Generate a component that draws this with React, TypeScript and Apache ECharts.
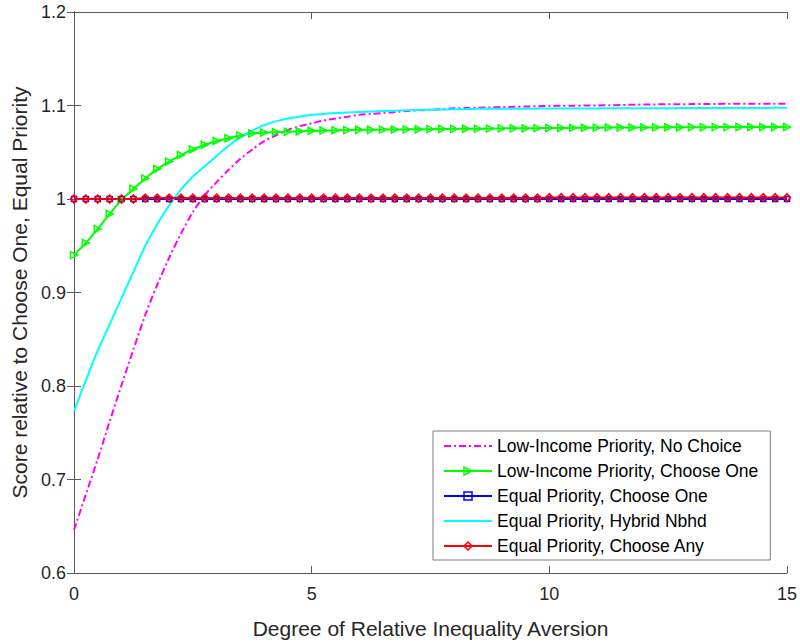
import React, { useEffect, useRef } from 'react';
import * as echarts from 'echarts';

// Degree of relative inequality aversion (x values)
const AVERSION = [
  0, 0.25, 0.5, 0.75, 1, 1.25, 1.5, 1.75, 2, 2.25,
  2.5, 2.75, 3, 3.25, 3.5, 3.75, 4, 4.25, 4.5, 4.75,
  5, 5.25, 5.5, 5.75, 6, 6.25, 6.5, 6.75, 7, 7.25,
  7.5, 7.75, 8, 8.25, 8.5, 8.75, 9, 9.25, 9.5, 9.75,
  10, 10.25, 10.5, 10.75, 11, 11.25, 11.5, 11.75, 12, 12.25,
  12.5, 12.75, 13, 13.25, 13.5, 13.75, 14, 14.25, 14.5, 14.75,
  15,
];

const LOW_INCOME_NO_CHOICE = [
  0.646, 0.684, 0.722, 0.762, 0.801, 0.839, 0.876, 0.908, 0.937, 0.963,
  0.986, 1.004, 1.018, 1.031, 1.043, 1.053, 1.062, 1.068, 1.074, 1.078,
  1.081, 1.084, 1.086, 1.088, 1.090, 1.091, 1.092, 1.093, 1.094, 1.095,
  1.0955, 1.096, 1.097, 1.0973, 1.0976, 1.098, 1.0983, 1.0986, 1.0989, 1.0992,
  1.0995, 1.0997, 1.0998, 1.0999, 1.1, 1.1003, 1.1005, 1.1008, 1.101, 1.1012,
  1.1013, 1.1014, 1.1015, 1.1016, 1.1017, 1.1018, 1.102, 1.102, 1.102, 1.102,
  1.102,
];

const LOW_INCOME_CHOOSE_ONE = [
  0.940, 0.953, 0.968, 0.984, 0.999, 1.011, 1.022, 1.032, 1.040, 1.047,
  1.053, 1.058, 1.062, 1.065, 1.068, 1.070, 1.071, 1.0715, 1.072, 1.0725,
  1.073, 1.0732, 1.0735, 1.0737, 1.074, 1.0741, 1.0742, 1.0743, 1.0745, 1.0746,
  1.0747, 1.0748, 1.075, 1.0751, 1.0752, 1.0753, 1.0755, 1.0756, 1.0757, 1.0758,
  1.076, 1.076, 1.0761, 1.0762, 1.0763, 1.0764, 1.0764, 1.0765, 1.0766, 1.0766,
  1.0767, 1.0767, 1.0768, 1.0768, 1.0769, 1.0769, 1.077, 1.077, 1.077, 1.077,
  1.077,
];

const EQUAL_CHOOSE_ONE = [
  1, 1, 1, 1, 1, 1, 1, 1, 1, 1,
  1, 1, 1, 1, 1, 1, 1, 1, 1, 1,
  1, 1, 1, 1, 1, 1, 1, 1, 1, 1,
  1, 1, 1, 1, 1, 1, 1, 1, 1, 1,
  1, 1, 1, 1, 1, 1, 1, 1, 1, 1,
  1, 1, 1, 1, 1, 1, 1, 1, 1, 1,
  1,
];

const EQUAL_HYBRID = [
  0.773, 0.806, 0.838, 0.866, 0.894, 0.922, 0.950, 0.973, 0.993, 1.010,
  1.024, 1.035, 1.046, 1.057, 1.066, 1.073, 1.079, 1.083, 1.086, 1.088,
  1.090, 1.091, 1.092, 1.0925, 1.093, 1.0935, 1.094, 1.0945, 1.095, 1.0952,
  1.0955, 1.0957, 1.096, 1.0962, 1.0964, 1.0965, 1.0965, 1.0966, 1.0966, 1.0967,
  1.0967, 1.0968, 1.0968, 1.0969, 1.0969, 1.097, 1.097, 1.097, 1.097, 1.0971,
  1.0971, 1.0972, 1.0972, 1.0972, 1.0973, 1.0973, 1.0973, 1.0974, 1.0974, 1.0975,
  1.0975,
];

const EQUAL_CHOOSE_ANY = [
  1, 1, 1, 1, 1, 1, 1.001, 1.001, 1.001, 1.001,
  1.001, 1.001, 1.001, 1.001, 1.001, 1.001, 1.001, 1.001, 1.001, 1.001,
  1.001, 1.001, 1.001, 1.001, 1.001, 1.001, 1.001, 1.001, 1.001, 1.001,
  1.001, 1.001, 1.001, 1.001, 1.001, 1.001, 1.001, 1.001, 1.001, 1.001,
  1.0015, 1.0015, 1.0015, 1.0015, 1.0015, 1.0015, 1.0015, 1.0015, 1.0015, 1.0015,
  1.0015, 1.0015, 1.0015, 1.0015, 1.0015, 1.0015, 1.0015, 1.0015, 1.0015, 1.0015,
  1.0015,
];

const SERIES_NAMES = [
  'Low-Income Priority, No Choice',
  'Low-Income Priority, Choose One',
  'Equal Priority, Choose One',
  'Equal Priority, Hybrid Nbhd',
  'Equal Priority, Choose Any',
];

const X_TITLE = 'Degree of Relative Inequality Aversion';
const Y_TITLE = 'Score relative to Choose One, Equal Priority';

const FONT = '"Liberation Sans", Arial, Helvetica, sans-serif';
const TEXT = '#262626';
const AXIS = '#5a5a5a';
const HOLLOW = 'rgba(255,255,255,0)';

const MAGENTA = '#ff00ff';
const GREEN = '#00ff00';
const BLUE = '#0000ff';
const CYAN = '#00ffff';
const RED = '#ff0000';

function pairs(ys: number[]) {
  return AVERSION.map((x, i) => [x, ys[i]]);
}

export default function App() {
  const ref = useRef<HTMLDivElement>(null);
  useEffect(() => {
    const chart = echarts.init(ref.current!, null, { renderer: 'svg' });
    const axisLine = { show: true, lineStyle: { color: AXIS, width: 1 } };
    const tick = (show: boolean) => ({
      show,
      inside: true,
      length: 7,
      lineStyle: { color: AXIS, width: 1 },
    });
    const hollowLegend = (name: string, color: string) => ({
      name,
      itemStyle: { color: HOLLOW, borderColor: color, borderWidth: 1.5 },
    });
    const noMarkerLegend = (name: string) => ({
      name,
      itemStyle: { color: HOLLOW, borderColor: HOLLOW, borderWidth: 0, opacity: 0 },
    });
    chart.setOption({
      animation: false,
      backgroundColor: '#ffffff',
      textStyle: { fontFamily: FONT },
      grid: { left: 74, right: 12, top: 12, bottom: 68, containLabel: false },
      xAxis: [
        {
          type: 'value',
          min: 0,
          max: 15,
          interval: 5,
          position: 'bottom',
          name: X_TITLE,
          nameLocation: 'middle',
          nameGap: 45,
          nameTextStyle: { fontSize: 21, color: TEXT, fontFamily: FONT },
          axisLine,
          axisTick: tick(true),
          axisLabel: { fontSize: 18, color: TEXT, margin: 12, fontFamily: FONT },
          splitLine: { show: false },
        },
        {
          type: 'value',
          min: 0,
          max: 15,
          interval: 5,
          position: 'top',
          axisLine,
          axisTick: tick(true),
          axisLabel: { show: false },
          splitLine: { show: false },
        },
      ],
      yAxis: [
        {
          type: 'value',
          min: 0.6,
          max: 1.2,
          interval: 0.1,
          position: 'left',
          name: Y_TITLE,
          nameLocation: 'middle',
          nameGap: 32,
          nameRotate: 90,
          nameTextStyle: { fontSize: 21, color: TEXT, fontFamily: FONT },
          axisLine,
          axisTick: tick(true),
          axisLabel: {
            fontSize: 18,
            color: TEXT,
            margin: 8,
            fontFamily: FONT,
            formatter: (v: number) => String(parseFloat(v.toFixed(1))),
          },
          splitLine: { show: false },
        },
        {
          type: 'value',
          min: 0.6,
          max: 1.2,
          interval: 0.1,
          position: 'right',
          axisLine,
          axisTick: tick(true),
          axisLabel: { show: false },
          splitLine: { show: false },
        },
      ],
      legend: {
        orient: 'vertical',
        left: 433,
        top: 431,
        padding: [6, 12, 5, 10],
        itemGap: 7,
        itemWidth: 48,
        itemHeight: 10,
        backgroundColor: '#ffffff',
        borderColor: '#7a7a7a',
        borderWidth: 1,
        borderRadius: 0,
        textStyle: { fontSize: 17.5, color: '#000000', fontFamily: FONT, lineHeight: 18 },
        data: [
          noMarkerLegend(SERIES_NAMES[0]),
          hollowLegend(SERIES_NAMES[1], GREEN),
          hollowLegend(SERIES_NAMES[2], BLUE),
          noMarkerLegend(SERIES_NAMES[3]),
          hollowLegend(SERIES_NAMES[4], RED),
        ],
      },
      series: [
        {
          name: SERIES_NAMES[0],
          type: 'line',
          data: pairs(LOW_INCOME_NO_CHOICE),
          symbol: 'none',
          smooth: 0.3,
          clip: false,
          itemStyle: { color: MAGENTA },
          lineStyle: { color: MAGENTA, width: 2, type: [7, 3, 2, 3] },
        },
        {
          name: SERIES_NAMES[1],
          type: 'line',
          data: pairs(LOW_INCOME_CHOOSE_ONE),
          symbol: 'triangle',
          symbolSize: 7,
          symbolRotate: -90,
          showAllSymbol: true,
          smooth: 0.3,
          clip: false,
          itemStyle: { color: HOLLOW, borderColor: GREEN, borderWidth: 1.5 },
          lineStyle: { color: GREEN, width: 2 },
        },
        {
          name: SERIES_NAMES[2],
          type: 'line',
          data: pairs(EQUAL_CHOOSE_ONE),
          symbol: 'rect',
          symbolSize: 5,
          showAllSymbol: true,
          clip: false,
          itemStyle: { color: HOLLOW, borderColor: BLUE, borderWidth: 1.5 },
          lineStyle: { color: BLUE, width: 2 },
        },
        {
          name: SERIES_NAMES[3],
          type: 'line',
          data: pairs(EQUAL_HYBRID),
          symbol: 'none',
          smooth: 0.3,
          clip: false,
          itemStyle: { color: CYAN },
          lineStyle: { color: CYAN, width: 2 },
        },
        {
          name: SERIES_NAMES[4],
          type: 'line',
          data: pairs(EQUAL_CHOOSE_ANY),
          symbol: 'diamond',
          symbolSize: [7, 8],
          showAllSymbol: true,
          clip: false,
          itemStyle: { color: HOLLOW, borderColor: RED, borderWidth: 1.5 },
          lineStyle: { color: RED, width: 2 },
        },
      ],
    });
    return () => chart.dispose();
  }, []);
  return (
    <div
      ref={ref}
      style={{ position: 'absolute', left: 0, top: 0, width: 800, height: 644 }}
    />
  );
}
